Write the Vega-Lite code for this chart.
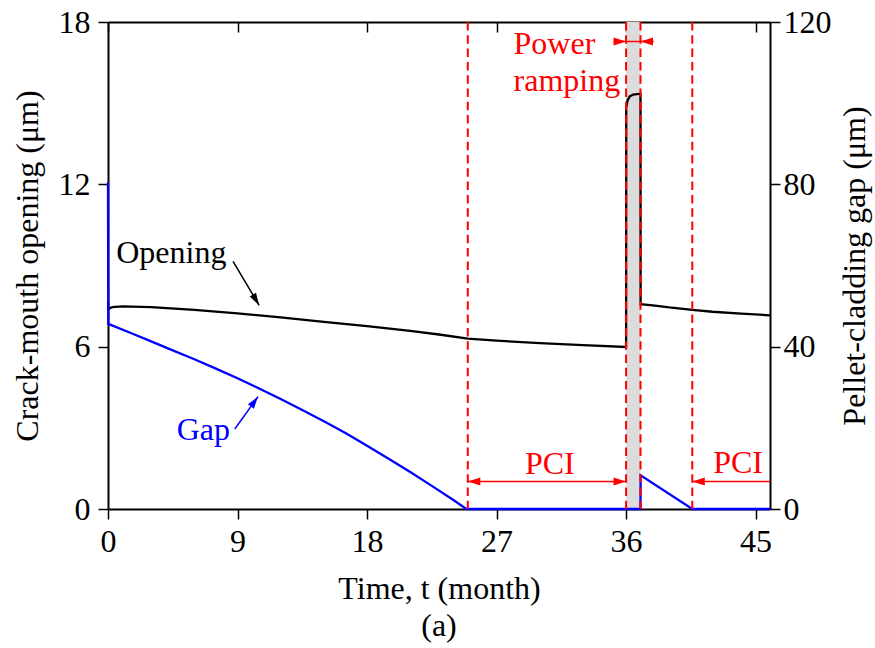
{
  "$schema": "https://vega.github.io/schema/vega-lite/v6.json",
  "width": 662,
  "height": 487,
  "autosize": {"type": "none"},
  "padding": {"left": 108, "top": 22, "right": 105, "bottom": 139},
  "background": "white",
  "config": {
    "font": "Liberation Serif",
    "view": {"stroke": null},
    "axis": {
      "grid": false, "domainColor": "black", "domainWidth": 2,
      "tickColor": "black", "tickWidth": 1.5,
      "labelFont": "Liberation Serif", "labelFontSize": 32, "labelColor": "black",
      "titleFont": "Liberation Serif", "titleFontSize": 32, "titleFontWeight": "normal", "titleColor": "black",
      "labelFlush": false, "labelOverlap": false
    },
    "text": {"font": "Liberation Serif", "fontSize": 32}
  },
  "title": {"text": "(a)", "orient": "bottom", "frame": "group", "anchor": "middle", "baseline": "alphabetic", "offset": 32, "fontSize": 32, "fontWeight": "normal", "font": "Liberation Serif", "color": "black"},
  "datasets": {
    "opening": [
      {"t": 0, "v": 7.63}, {"t": 0.03, "v": 7.4}, {"t": 0.3, "v": 7.46}, {"t": 1, "v": 7.49},
      {"t": 3, "v": 7.46}, {"t": 6, "v": 7.36}, {"t": 9, "v": 7.23}, {"t": 12, "v": 7.08},
      {"t": 15, "v": 6.92}, {"t": 18, "v": 6.76}, {"t": 21, "v": 6.58}, {"t": 23, "v": 6.45},
      {"t": 25, "v": 6.3}, {"t": 27, "v": 6.22}, {"t": 30, "v": 6.13}, {"t": 33, "v": 6.06},
      {"t": 36, "v": 5.99}, {"t": 36.01, "v": 14.85}, {"t": 36.1, "v": 15.1}, {"t": 36.25, "v": 15.25},
      {"t": 36.5, "v": 15.32}, {"t": 37, "v": 15.35}, {"t": 37.01, "v": 7.57}, {"t": 38, "v": 7.52},
      {"t": 39, "v": 7.45}, {"t": 40.6, "v": 7.36}, {"t": 42, "v": 7.29}, {"t": 44, "v": 7.22},
      {"t": 46, "v": 7.16}
    ],
    "gap": [
      {"t": 0, "g": 80.5}, {"t": 0.02, "g": 45.6}, {"t": 1.5, "g": 43.5}, {"t": 3, "g": 41.3},
      {"t": 4.5, "g": 39.1}, {"t": 6, "g": 36.9}, {"t": 7.5, "g": 34.6}, {"t": 9, "g": 32.2},
      {"t": 10.5, "g": 29.7}, {"t": 12, "g": 27.1}, {"t": 13.5, "g": 24.4}, {"t": 15, "g": 21.6},
      {"t": 16.5, "g": 18.7}, {"t": 18, "g": 15.6}, {"t": 19.5, "g": 12.4}, {"t": 21, "g": 9.1},
      {"t": 22.5, "g": 5.7}, {"t": 24, "g": 2.2}, {"t": 24.9, "g": 0}, {"t": 37, "g": 0},
      {"t": 37.01, "g": 8.3}, {"t": 40.6, "g": 0}, {"t": 46, "g": 0}
    ],
    "band": [{"t0": 36, "t1": 37}],
    "markers": [{"t": 25}, {"t": 36}, {"t": 37}, {"t": 40.6}],
    "shafts": [
      {"x1": 8.69, "y1": 61.0, "x2": 10.5, "y2": 50.2, "kind": "opening"},
      {"x1": 8.81, "y1": 19.7, "x2": 10.43, "y2": 27.7, "kind": "gap"},
      {"x1": 25, "y1": 6.8, "x2": 36, "y2": 6.8, "kind": "pci"},
      {"x1": 40.6, "y1": 6.8, "x2": 46, "y2": 6.8, "kind": "pci"},
      {"x1": 35.13, "y1": 115.2, "x2": 37.92, "y2": 115.2, "kind": "pci"}
    ],
    "heads": [
      {"t": 25, "y": 6.8, "dir": "left"},
      {"t": 40.6, "y": 6.8, "dir": "left"},
      {"t": 37, "y": 115.2, "dir": "left"},
      {"t": 36, "y": 6.8, "dir": "right"},
      {"t": 36, "y": 115.2, "dir": "right"},
      {"t": 10.5, "y": 50.2, "dir": "opening"},
      {"t": 10.43, "y": 27.7, "dir": "gap"}
    ],
    "labels": [
      {"t": 4.4, "y": 60.7, "label": "Opening", "kind": "opening", "pos": "c"},
      {"t": 6.63, "y": 17.1, "label": "Gap", "kind": "gap", "pos": "c"},
      {"t": 30.7, "y": 8.7, "label": "PCI", "kind": "pci", "pos": "c"},
      {"t": 43.78, "y": 8.9, "label": "PCI", "kind": "pci", "pos": "c"},
      {"t": 28.18, "y": 112.2, "label": "Power", "kind": "pci", "pos": "l"},
      {"t": 28.18, "y": 103.1, "label": "ramping", "kind": "pci", "pos": "l"}
    ]
  },
  "layer": [
    {
      "data": {"name": "band"},
      "mark": {"type": "rect", "color": "#dcdcdc"},
      "encoding": {
        "x": {"field": "t0", "type": "quantitative", "scale": {"domain": [0, 46], "nice": false, "zero": false}, "axis": null},
        "x2": {"field": "t1"}
      }
    },
    {
      "data": {"name": "opening"},
      "mark": {"type": "line", "color": "black", "strokeWidth": 2.3},
      "encoding": {
        "x": {"field": "t", "type": "quantitative", "scale": {"domain": [0, 46], "nice": false, "zero": false},
          "axis": {"orient": "bottom", "values": [0, 9, 18, 27, 36, 45], "tickSize": 10, "labelPadding": 7,
            "title": "Time, t (month)", "titleBaseline": "alphabetic", "titleY": 89}},
        "y": {"field": "v", "type": "quantitative", "scale": {"domain": [0, 18], "nice": false},
          "axis": {"orient": "left", "values": [0, 6, 12, 18], "tickSize": 10, "labelPadding": 8,
            "title": "Crack-mouth opening (μm)", "titleAngle": 270, "titleBaseline": "alphabetic", "titleX": -71}}
      }
    },
    {
      "data": {"name": "gap"},
      "mark": {"type": "line", "color": "#0000ff", "strokeWidth": 2.3},
      "encoding": {
        "x": {"field": "t", "type": "quantitative", "scale": {"domain": [0, 46], "nice": false, "zero": false},
          "axis": {"orient": "top", "values": [0, 9, 18, 27, 36, 45], "tickSize": -10, "labels": false, "title": null}},
        "y": {"field": "g", "type": "quantitative", "scale": {"domain": [0, 120], "nice": false},
          "axis": {"orient": "right", "values": [0, 40, 80, 120], "tickSize": 10, "labelPadding": 3,
            "title": "Pellet-cladding gap (μm)", "titleAngle": 270, "titleBaseline": "alphabetic", "titleX": 94}}
      }
    },
    {
      "data": {"name": "markers"},
      "mark": {"type": "rule", "color": "#ff0000", "strokeWidth": 2, "strokeDash": [8.5, 4.8]},
      "encoding": {
        "x": {"field": "t", "type": "quantitative", "scale": {"domain": [0, 46], "nice": false, "zero": false}, "axis": null}
      }
    },
    {
      "data": {"name": "shafts"},
      "mark": {"type": "rule", "strokeWidth": 1.5},
      "encoding": {
        "x": {"field": "x1", "type": "quantitative", "scale": {"domain": [0, 46], "nice": false, "zero": false}, "axis": null},
        "x2": {"field": "x2"},
        "y": {"field": "y1", "type": "quantitative", "scale": {"domain": [0, 120], "nice": false}, "axis": null},
        "y2": {"field": "y2"},
        "color": {"field": "kind", "type": "nominal", "scale": {"domain": ["opening", "gap", "pci"], "range": ["#000000", "#0000ff", "#ff0000"]}, "legend": null}
      }
    },
    {
      "data": {"name": "heads"},
      "transform": [{"filter": "datum.dir === 'left'"}],
      "mark": {"type": "point", "filled": true, "opacity": 1, "color": "#ff0000", "strokeWidth": 0, "shape": "M0,0L-0.32,1L0.32,1Z", "size": 625, "angle": 270},
      "encoding": {
        "x": {"field": "t", "type": "quantitative", "scale": {"domain": [0, 46], "nice": false, "zero": false}, "axis": null},
        "y": {"field": "y", "type": "quantitative", "scale": {"domain": [0, 120], "nice": false}, "axis": null}
      }
    },
    {
      "data": {"name": "heads"},
      "transform": [{"filter": "datum.dir === 'right'"}],
      "mark": {"type": "point", "filled": true, "opacity": 1, "color": "#ff0000", "strokeWidth": 0, "shape": "M0,0L-0.32,1L0.32,1Z", "size": 625, "angle": 90},
      "encoding": {
        "x": {"field": "t", "type": "quantitative", "scale": {"domain": [0, 46], "nice": false, "zero": false}, "axis": null},
        "y": {"field": "y", "type": "quantitative", "scale": {"domain": [0, 120], "nice": false}, "axis": null}
      }
    },
    {
      "data": {"name": "heads"},
      "transform": [{"filter": "datum.dir === 'opening'"}],
      "mark": {"type": "point", "filled": true, "opacity": 1, "color": "#000000", "strokeWidth": 0, "shape": "M0,0L-0.3,1L0.3,1Z", "size": 600, "angle": 149.3},
      "encoding": {
        "x": {"field": "t", "type": "quantitative", "scale": {"domain": [0, 46], "nice": false, "zero": false}, "axis": null},
        "y": {"field": "y", "type": "quantitative", "scale": {"domain": [0, 120], "nice": false}, "axis": null}
      }
    },
    {
      "data": {"name": "heads"},
      "transform": [{"filter": "datum.dir === 'gap'"}],
      "mark": {"type": "point", "filled": true, "opacity": 1, "color": "#0000ff", "strokeWidth": 0, "shape": "M0,0L-0.3,1L0.3,1Z", "size": 600, "angle": 35.9},
      "encoding": {
        "x": {"field": "t", "type": "quantitative", "scale": {"domain": [0, 46], "nice": false, "zero": false}, "axis": null},
        "y": {"field": "y", "type": "quantitative", "scale": {"domain": [0, 120], "nice": false}, "axis": null}
      }
    },
    {
      "data": {"name": "labels"},
      "transform": [{"filter": "datum.pos === 'c'"}],
      "mark": {"type": "text", "align": "center", "baseline": "alphabetic", "fontSize": 32, "font": "Liberation Serif"},
      "encoding": {
        "x": {"field": "t", "type": "quantitative", "scale": {"domain": [0, 46], "nice": false, "zero": false}, "axis": null},
        "y": {"field": "y", "type": "quantitative", "scale": {"domain": [0, 120], "nice": false}, "axis": null},
        "text": {"field": "label"},
        "color": {"field": "kind", "type": "nominal", "scale": {"domain": ["opening", "gap", "pci"], "range": ["#000000", "#0000ff", "#ff0000"]}, "legend": null}
      }
    },
    {
      "data": {"name": "labels"},
      "transform": [{"filter": "datum.pos === 'l'"}],
      "mark": {"type": "text", "align": "left", "baseline": "alphabetic", "fontSize": 32, "font": "Liberation Serif"},
      "encoding": {
        "x": {"field": "t", "type": "quantitative", "scale": {"domain": [0, 46], "nice": false, "zero": false}, "axis": null},
        "y": {"field": "y", "type": "quantitative", "scale": {"domain": [0, 120], "nice": false}, "axis": null},
        "text": {"field": "label"},
        "color": {"field": "kind", "type": "nominal", "scale": {"domain": ["opening", "gap", "pci"], "range": ["#000000", "#0000ff", "#ff0000"]}, "legend": null}
      }
    }
  ],
  "resolve": {"scale": {"y": "independent"}}
}
